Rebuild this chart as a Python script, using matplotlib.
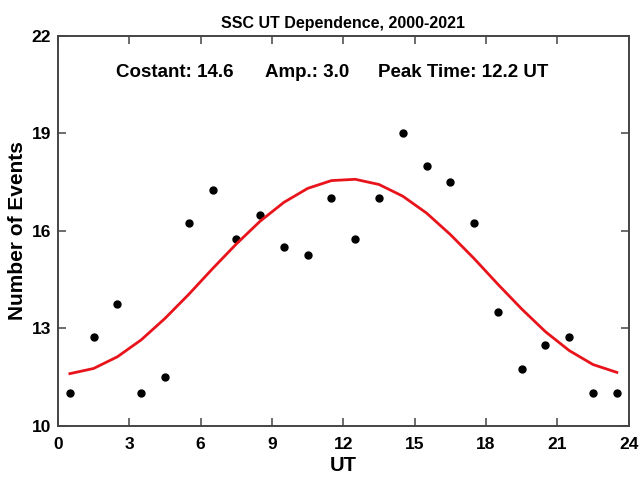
import matplotlib
matplotlib.use("Agg")
import matplotlib.pyplot as plt

# hourly UT bins and observed event counts
ut_hours = [0.5, 1.5, 2.5, 3.5, 4.5, 5.5, 6.5, 7.5, 8.5, 9.5, 10.5, 11.5,
            12.5, 13.5, 14.5, 15.5, 16.5, 17.5, 18.5, 19.5, 20.5, 21.5, 22.5, 23.5]
events = [11.0, 12.75, 13.75, 11.0, 11.5, 16.25, 17.25, 15.75, 16.5, 15.5, 15.25, 17.0,
          15.75, 17.0, 19.0, 18.0, 17.5, 16.25, 13.5, 11.75, 12.5, 12.75, 11.0, 11.0]
# sinusoidal fit values
fit = [11.61, 11.77, 12.13, 12.65, 13.31, 14.05, 14.84, 15.60, 16.30, 16.88, 17.31, 17.55,
       17.59, 17.43, 17.07, 16.55, 15.89, 15.15, 14.36, 13.60, 12.90, 12.32, 11.89, 11.65]

x_ticks = [0, 3, 6, 9, 12, 15, 18, 21, 24]
y_ticks = [10, 13, 16, 19, 22]

plt.rcParams['font.family'] = ['Liberation Sans', 'DejaVu Sans']
plt.rcParams['font.weight'] = 'bold'

fig = plt.figure(figsize=(6.42, 4.78), dpi=100)
ax = fig.add_axes([0.0903, 0.1088, 0.889, 0.816])

ax.plot(ut_hours, events, 'o', color='black', markersize=5)
ax.plot(ut_hours, fit, color='#e8141c', linewidth=2)

ax.set_xlim(0, 24)
ax.set_ylim(10, 22)
ax.set_xticks(x_ticks)
ax.set_yticks(y_ticks)
ax.tick_params(direction='in', length=6, width=1.1, top=True, right=True,
               labelsize=12.5, colors='#444444', labelcolor='black')
ax.tick_params(axis='x', pad=8)
ax.tick_params(axis='y', pad=5)
for lbl in ax.get_xticklabels() + ax.get_yticklabels():
    lbl.set_fontweight('bold')
for sp in ax.spines.values():
    sp.set_linewidth(1.4)
    sp.set_color('#444444')

ax.set_title("SSC UT Dependence, 2000-2021", fontsize=11.5, fontweight='bold', pad=6)
ax.set_xlabel("UT", fontsize=14.5, fontweight='bold', labelpad=3)
ax.set_ylabel("Number of Events", fontsize=15, fontweight='bold', labelpad=3)

ax.text(0.101, 0.906, "Costant: 14.6", transform=ax.transAxes, fontsize=13.5,
        fontweight='bold', va='center', ha='left')
ax.text(0.362, 0.906, "Amp.: 3.0", transform=ax.transAxes, fontsize=13.5,
        fontweight='bold', va='center', ha='left')
ax.text(0.561, 0.906, "Peak Time: 12.2 UT", transform=ax.transAxes, fontsize=13.5,
        fontweight='bold', va='center', ha='left')

fig.savefig("out.png", dpi=100)
